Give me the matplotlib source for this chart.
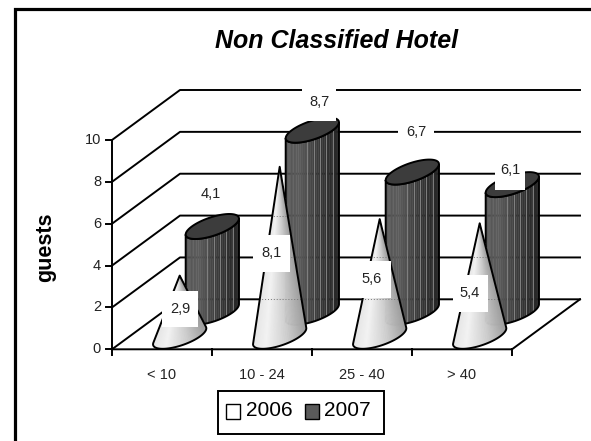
import matplotlib
matplotlib.use("Agg")
import matplotlib.pyplot as plt
from matplotlib.patches import Polygon, Rectangle
import numpy as np

plt.rcParams['font.family'] = ['Liberation Sans', 'DejaVu Sans']

categories = ["< 10", "10 - 24", "25 - 40", "> 40"]
values_2006 = [2.9, 8.1, 5.6, 5.4]
values_2007 = [4.1, 8.7, 6.7, 6.1]
yticks = [0, 2, 4, 6, 8, 10]

# chart frame in pixels
X0, Y0 = 112, 349.3
CAT_W = 100
UNIT = 20.93
DX, DY = 68, -50
RX, RD = 20.5 / CAT_W, 0.25
SMALL = 10.5
LW = 1.4


def proj(cat, val, depth=0.0):
    # cat in category widths, val in chart units, depth 0 front .. 1 back
    return X0 + cat * CAT_W + depth * DX, Y0 - val * UNIT + depth * DY


def ellipse(cat, val, depth, t):
    return proj(cat + RX * np.cos(t), val, depth + RD * np.sin(t))


fig = plt.figure(figsize=(5.91, 4.41), dpi=100)
ax = fig.add_axes([0, 0, 1, 1])
ax.set_xlim(0, 591)
ax.set_ylim(441, 0)
ax.axis("off")

# outer border only on top and left
ax.plot([14.5, 14.5, 591], [441, 8.5, 8.5], color="black", lw=2.3, solid_joinstyle="miter")

# walls and floor
n = len(categories)
for v in yticks:
    xs, ys = zip(proj(0, v), proj(0, v, 1), proj(n, v, 1))
    ax.plot(xs, ys, color="black", lw=LW, zorder=1)
    px, py = proj(0, v)
    ax.plot([px - 6, px], [py, py], color="black", lw=LW, zorder=1)
    ax.text(px - 11, py, str(v), ha="right", va="center", fontsize=SMALL, color="#222222")
ax.plot(*zip(proj(0, 0), proj(0, 10)), color="black", lw=LW, zorder=1)
ax.plot(*zip(proj(0, 0), proj(n, 0), proj(n, 0, 1)), color="black", lw=LW, zorder=1)
for i in range(n + 1):
    px, py = proj(i, 0)
    ax.plot([px, px], [py, py + 6], color="black", lw=LW, zorder=1)
for i, c in enumerate(categories):
    px, py = proj(i + 0.5, 0)
    ax.text(px, 375, c, ha="center", va="center", fontsize=SMALL, color="#222222")


def shade(stops, f):
    pos = [s[0] for s in stops]
    return str(np.interp(f, pos, [s[1] for s in stops]))


CYL = [(0, .33), (.25, .36), (.6, .23), (1, .14)]
CONE = [(0, .9), (.25, .95), (.65, .8), (1, .62)]


def cylinder(i, val, depth, z):
    # visible front half of the round bar, from silhouette to silhouette
    t_l = np.pi + np.arctan2(RD * DX, RX * CAT_W)
    ts = np.linspace(t_l, t_l + np.pi, 41)
    ex, ey = ellipse(i + 0.5, 0, depth, ts)
    h = val * UNIT
    for k in range(40):
        f = (ex[k] + ex[k + 1]) / 2
        f = (f - ex.min()) / (ex.max() - ex.min())
        c = shade(CYL, f)
        ax.add_patch(Polygon([(ex[k], ey[k]), (ex[k + 1], ey[k + 1]), (ex[k + 1], ey[k + 1] - h), (ex[k], ey[k] - h)],
                             fc=c, ec=c, lw=.3, zorder=z))
    outline = list(zip(ex, ey)) + list(zip(ex[::-1], ey[::-1] - h))
    ax.add_patch(Polygon(outline, fc="none", ec="black", lw=LW, zorder=z + .2))
    for f in [.4, .53, .64, .76, .88]:
        xl = ex.min() + f * (ex.max() - ex.min())
        yl = np.interp(xl, ex, ey)
        ax.plot([xl, xl], [yl, yl - h], color="#8a8a8a", lw=.6, zorder=z + .1)
    tt = np.linspace(0, 2 * np.pi, 80)
    tx, ty = ellipse(i + 0.5, val, depth, tt)
    ax.add_patch(Polygon(list(zip(tx, ty)), fc="#3c3c3c", ec="black", lw=LW, zorder=z + .3))


def cone(i, val, depth, z):
    tt = np.linspace(0, 2 * np.pi, 240, endpoint=False)
    ex, ey = ellipse(i + 0.5, 0, depth, tt)
    apex_x, apex_y = proj(i + 0.5, val, depth)
    # silhouette points: extreme angles seen from the apex
    ang = np.arctan2(ex - apex_x, ey - apex_y)
    right, left = np.argmax(ang), np.argmin(ang)
    idx = np.arange(left, left + 240) % 240
    idx = idx[:np.where(idx == right)[0][0] + 1]
    px, py = ex[idx], ey[idx]
    for k in range(len(px) - 1):
        f = (px[k] + px[k + 1]) / 2
        f = (f - px.min()) / (px.max() - px.min())
        c = shade(CONE, f)
        ax.add_patch(Polygon([(apex_x, apex_y), (px[k], py[k]), (px[k + 1], py[k + 1])],
                             fc=c, ec=c, lw=.3, zorder=z))
    outline = [(apex_x, apex_y)] + list(zip(px, py))
    body = Polygon(outline, fc="none", ec="black", lw=LW, zorder=z + .2, joinstyle="round")
    ax.add_patch(body)
    # back wall grid shows faintly through the cone
    for v in yticks:
        gx, gy = proj(i, v, 1)
        line, = ax.plot([gx - 100, gx + 100], [gy, gy], color="#777777", lw=.7, ls=(0, (1, 2)), zorder=z + .1)
        line.set_clip_path(body)


for i, v in enumerate(values_2007):
    cylinder(i, v, 0.74, 2 + i)
for i, v in enumerate(values_2006):
    cone(i, v, 0.26, 8 + i)

# data labels sit in white boxes, moved by hand in the original
label_boxes_2006 = [(180, 309, 36, 36), (271, 253, 37, 37), (372, 279, 37, 37), (470, 293, 35, 37)]
label_boxes_2007 = [(211, 194, 34, 36), (319, 102, 34, 38), (416, 132, 36, 36), (510, 170, 30, 40)]
for vals, boxes in ((values_2006, label_boxes_2006), (values_2007, label_boxes_2007)):
    for v, (cx, cy, w, h) in zip(vals, boxes):
        ax.add_patch(Rectangle((cx - w / 2, cy - h / 2), w, h, fc="white", ec="none", zorder=20))
        ax.text(cx, cy, f"{v:.1f}".replace(".", ","), ha="center", va="center",
                fontsize=SMALL, color="#222222", zorder=21)

ax.text(337, 41, "Non Classified Hotel", ha="center", va="center", fontsize=18,
        fontweight="bold", fontstyle="italic")
ax.text(46, 247, "guests", ha="center", va="center", rotation=90, fontsize=15.5, fontweight="bold")

# legend
ax.add_patch(Rectangle((217.5, 390.5), 166, 43, fc="white", ec="black", lw=1.4, zorder=5))
ax.add_patch(Rectangle((225.5, 403.5), 14, 15, fc="white", ec="black", lw=1, zorder=6))
ax.add_patch(Rectangle((304.5, 403.5), 14, 15, fc="#5a5a5a", ec="black", lw=1, zorder=6))
ax.text(246, 410.5, "2006", ha="left", va="center", fontsize=15, zorder=6)
ax.text(324, 410.5, "2007", ha="left", va="center", fontsize=15, zorder=6)

fig.savefig("out.png", dpi=100)
